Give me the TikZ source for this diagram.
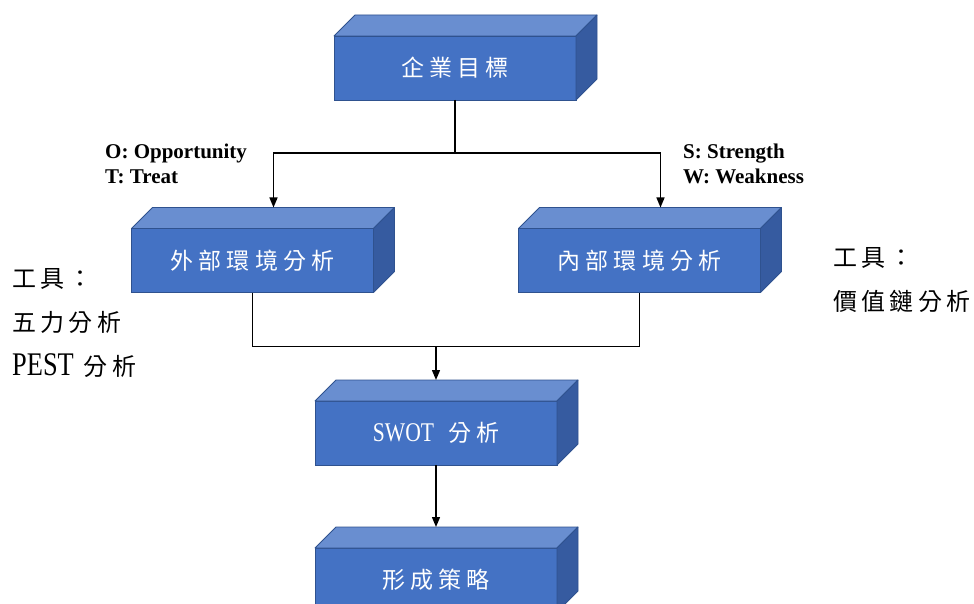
\documentclass[tikz,border=0pt]{standalone}
\usepackage{fontspec}
\setmainfont{Liberation Serif}
\newfontfamily\cjk[LetterSpace=22]{Noto Sans CJK TC}
\newfontfamily\cjktool[LetterSpace=18]{Noto Sans CJK TC}
\usetikzlibrary{arrows.meta,positioning,calc}
\definecolor{CubeFront}{RGB}{68,114,196}
\definecolor{CubeTop}{RGB}{105,142,208}
\definecolor{CubeSide}{RGB}{54,91,160}
\definecolor{CubeEdge}{RGB}{47,82,143}
\tikzset{
  cube/.style={draw=CubeEdge,fill=CubeFront,line width=0.8pt,text=white,
    minimum width=242pt,minimum height=64pt,inner sep=0pt,outer sep=0pt,
    font=\fontsize{23}{26}\selectfont\cjk},
  cubetop/.style={draw=CubeEdge,fill=CubeTop,line width=0.8pt,line join=round},
  cubeside/.style={draw=CubeEdge,fill=CubeSide,line width=0.8pt,line join=round},
  swotnote/.style={align=left,inner sep=0pt,
    font=\fontsize{21}{25}\selectfont\bfseries},
  toolnote/.style={align=left,inner sep=0pt,
    font=\fontsize{24}{44}\selectfont\cjktool},
  link/.style={line width=1.4pt,black},
  arrow/.style={link,-{Triangle[length=10pt,width=8pt]}}
}

\begin{document}
\begin{tikzpicture}[x=1pt,y=-1pt]
  \useasboundingbox (0,0) rectangle (974,604);
  \clip (0,0) rectangle (974,604);

  \node[cube] (goal) at (455,68) {企業目標};
  \node[cube] (outer) at (252.5,260.5) {外部環境分析};
  \node[cube,right=145pt of outer] (inner) {內部環境分析};
  \node[cube] (swot) at (436,433)
    {\scalebox{0.8}[1]{\rmfamily\fontsize{27}{30}\selectfont SWOT}\hspace{14pt}分析};
  \node[cube,below=83pt of swot] (plan) {形成策略};

  \foreach \n in {goal,outer,inner,swot,plan} {
    \filldraw[cubetop] (\n.north west) -- ++(21,-21) -- ++(242,0)
      -- (\n.north east) -- cycle;
    \filldraw[cubeside] (\n.north east) -- ++(21,-21)
      -- ($(\n.south east)+(21,-21)$) -- (\n.south east) -- cycle;
    \coordinate (\n-top) at ($(\n.north)+(21,-21)$);
  }

  \draw[link] (goal.south) -- ++(0,53) coordinate (fork);
  \draw[arrow] (fork) -| (outer-top);
  \draw[arrow] (fork) -| (inner-top);
  \draw[link] (outer.south) -- ++(0,54) coordinate (join) -| (inner.south);
  \draw[arrow] (join -| swot.north) -- (swot.north |- swot-top);
  \draw[arrow] (swot.south) -- (swot.south |- plan-top);

  \node[swotnote,anchor=north west] (ot) at (105,144)
    {O: Opportunity\\T: Treat};
  \node[swotnote,anchor=north west] (sw) at (683,144)
    {S: Strength\\W: Weakness};
  \node[toolnote,anchor=north west] (exttools) at (12,268)
    {工具：\\五力分析\\\scalebox{0.8}[1]{\rmfamily\fontsize{33}{44}\selectfont PEST}\hspace{10pt}分析};
  \node[toolnote,anchor=north west] (inttools) at (833,247)
    {工具：\\價值鏈分析};
\end{tikzpicture}
\end{document}
